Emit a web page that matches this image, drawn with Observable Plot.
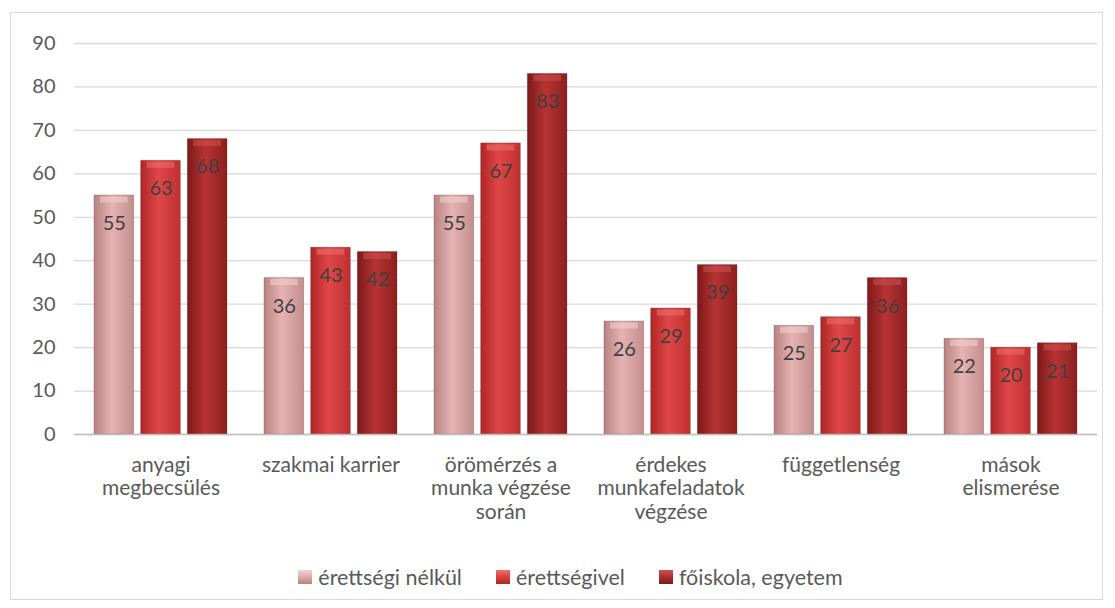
<!DOCTYPE html>
<html>
<head>
<meta charset="utf-8">
<script src="https://cdn.jsdelivr.net/npm/d3@7"></script>
<script src="https://cdn.jsdelivr.net/npm/@observablehq/plot@0.6"></script>
<style>
  html, body { margin: 0; padding: 0; background: #ffffff; }
  #frame {
    position: absolute; left: 10px; top: 12px; width: 1091px; height: 586px;
    border: 1px solid #d9d9d9; background: #fff;
    font-family: Lato, "Open Sans", sans-serif;
  }
  #legend {
    display: flex; justify-content: center; align-items: center;
    gap: 34px; margin-top: 8px; padding-left: 28px;
    font-size: 21.5px; color: #595959;
  }
  .item { display: flex; align-items: center; gap: 6px; }
  .sw { width: 14px; height: 14px; display: inline-block; }
</style>
</head>
<body>
<div id="frame">
  <div id="chart"></div>
  <div id="legend"></div>
</div>
<script>
const categories = [
  "anyagi\nmegbecsülés",
  "szakmai karrier",
  "örömérzés a\nmunka végzése\nsorán",
  "érdekes\nmunkafeladatok\nvégzése",
  "függetlenség",
  "mások\nelismerése"
];
const series = ["érettségi nélkül", "érettségivel", "főiskola, egyetem"];
const valuesNelkul = [55, 36, 55, 26, 25, 22];
const valuesErettsegivel = [63, 43, 67, 29, 27, 20];
const valuesFoiskola = [68, 42, 83, 39, 36, 21];
const yTicks = [0, 10, 20, 30, 40, 50, 60, 70, 80, 90];

const seriesValues = [valuesNelkul, valuesErettsegivel, valuesFoiskola];

// gradient stops per series: [edge, center, edge]
const grads = [
  ["#b78282", "#e6b2b2", "#c48e8e"],
  ["#ae2626", "#e04747", "#bf3030"],
  ["#7c1919", "#b73333", "#8c2020"]
];
const bevels = ["#f3d2d2", "#ee7070", "#cc5050"];

// layout (style only)
const W = 1091, ML = 63, MR = 5;
const PAD_IN = 0.22, PAD_OUT = 0.11;
const step = (W - ML - MR) / (categories.length - PAD_IN + 2 * PAD_OUT);
const band = step * (1 - PAD_IN);
const gapFrac = 0.15;
const barStep = band / (series.length - gapFrac);
const barW = barStep * (1 - gapFrac);

const barMarks = [];
const bevelMarks = [];
const textMarks = [];
series.forEach((s, j) => {
  const rows = categories.map((c, i) => ({category: c, series: s, value: seriesValues[j][i]}));
  const left = j * barStep;
  const right = band - (left + barW);
  barMarks.push(Plot.barY(rows, {
    x: "category", y: "value", fill: `url(#grad${j})`,
    insetLeft: left, insetRight: right,
    stroke: "#5a1515", strokeOpacity: 0.3, strokeWidth: 0.8
  }));
  bevelMarks.push(Plot.tickY(rows, {
    x: "category", y: "value", stroke: bevels[j], strokeOpacity: 0.55, strokeWidth: 6,
    insetLeft: left + 6, insetRight: right + 6, dy: 4
  }));
  textMarks.push(Plot.text(rows, {
    x: "category", y: "value", text: d => String(d.value),
    dx: left + barW / 2 - band / 2, dy: 28, fontSize: 20, fill: "#404040"
  }));
});

const chart = Plot.plot({
  width: W,
  height: 543,
  marginTop: 30,
  marginLeft: ML,
  marginRight: MR,
  marginBottom: 122,
  style: {fontFamily: "Lato, 'Open Sans', sans-serif", color: "#595959", background: "transparent"},
  x: {domain: categories, paddingInner: PAD_IN, paddingOuter: PAD_OUT, label: null},
  y: {domain: [0, 90], label: null, ticks: yTicks},
  marks: [
    Plot.gridY(yTicks, {stroke: "#d9d9d9", strokeOpacity: 1, strokeWidth: 1.3}),
    Plot.axisY(yTicks, {tickSize: 0, tickPadding: 19, fontSize: 20, fill: "#595959", label: null}),
    ...barMarks,
    ...bevelMarks,
    ...textMarks,
    Plot.ruleY([0], {stroke: "#bfbfbf", strokeWidth: 1.5}),
    Plot.axisX({anchor: "bottom", tickSize: 0, tickPadding: 20, fontSize: 21, lineHeight: 1.14, fill: "#595959", label: null, lineAnchor: "top"})
  ]
});

// gradient definitions
const svg = d3.select(chart);
const defs = svg.insert("defs", ":first-child");
grads.forEach((g, i) => {
  const lg = defs.append("linearGradient").attr("id", "grad" + i)
    .attr("x1", "0%").attr("x2", "100%").attr("y1", "0%").attr("y2", "0%");
  lg.append("stop").attr("offset", "0%").attr("stop-color", g[0]);
  lg.append("stop").attr("offset", "45%").attr("stop-color", g[1]);
  lg.append("stop").attr("offset", "100%").attr("stop-color", g[2]);
});
document.getElementById("chart").appendChild(chart);

const legend = d3.select("#legend");
series.forEach((s, i) => {
  const it = legend.append("div").attr("class", "item");
  it.append("span").attr("class", "sw")
    .style("background", `linear-gradient(180deg, ${bevels[i]} 0%, ${grads[i][1]} 40%, ${grads[i][0]} 100%)`);
  it.append("span").text(s);
});
</script>
</body>
</html>
